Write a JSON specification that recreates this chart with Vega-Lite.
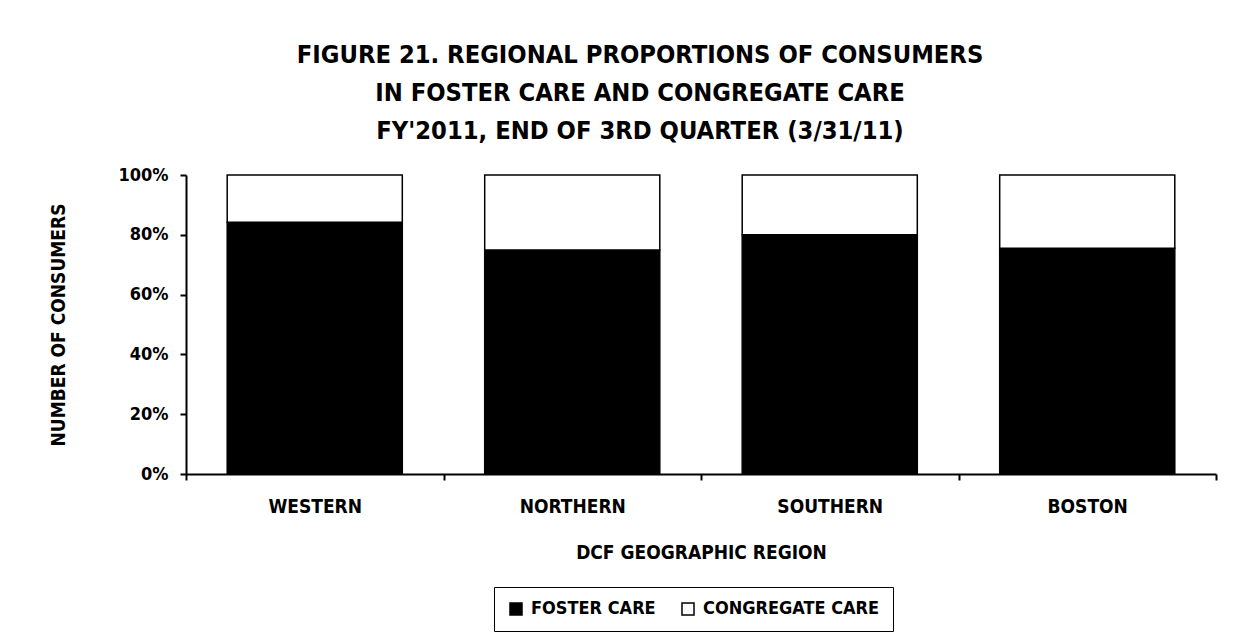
{
  "$schema": "https://vega.github.io/schema/vega-lite/v6.json",
  "width": 1030,
  "height": 299,
  "autosize": {"type": "none"},
  "padding": {"left": 186, "top": 175, "right": 25, "bottom": 163},
  "background": "white",
  "title": {
    "text": ["FIGURE 21. REGIONAL PROPORTIONS OF CONSUMERS", "IN FOSTER CARE AND CONGREGATE CARE", "FY'2011, END OF 3RD QUARTER (3/31/11)"],
    "font": "DejaVu Sans Condensed",
    "fontWeight": "bold",
    "fontSize": 25.3,
    "lineHeight": 38,
    "color": "black",
    "anchor": "middle",
    "dx": -61,
    "offset": 22
  },
  "data": {
    "values": [
      {"region": "WESTERN", "category": "FOSTER CARE", "pct": 84.2},
      {"region": "WESTERN", "category": "CONGREGATE CARE", "pct": 15.8},
      {"region": "NORTHERN", "category": "FOSTER CARE", "pct": 74.9},
      {"region": "NORTHERN", "category": "CONGREGATE CARE", "pct": 25.1},
      {"region": "SOUTHERN", "category": "FOSTER CARE", "pct": 80.0},
      {"region": "SOUTHERN", "category": "CONGREGATE CARE", "pct": 20.0},
      {"region": "BOSTON", "category": "FOSTER CARE", "pct": 75.5},
      {"region": "BOSTON", "category": "CONGREGATE CARE", "pct": 24.5}
    ]
  },
  "mark": {"type": "bar", "width": {"band": 0.68}, "stroke": "black", "strokeWidth": 1.5},
  "encoding": {
    "x": {
      "field": "region",
      "type": "nominal",
      "sort": ["WESTERN", "NORTHERN", "SOUTHERN", "BOSTON"],
      "scale": {"paddingInner": 0, "paddingOuter": 0},
      "axis": {
        "title": "DCF GEOGRAPHIC REGION",
        "labelAngle": 0,
        "tickBand": "extent",
        "tickSize": 6,
        "labelPadding": 17,
        "titlePadding": 27
      }
    },
    "y": {
      "field": "pct",
      "type": "quantitative",
      "stack": "normalize",
      "scale": {"domain": [0, 1], "nice": false},
      "axis": {
        "title": "NUMBER OF CONSUMERS",
        "format": ".0%",
        "values": [0, 0.2, 0.4, 0.6, 0.8, 1],
        "grid": false,
        "tickSize": 6,
        "labelPadding": 12,
        "labelFontSize": 18,
        "titlePadding": 49
      }
    },
    "color": {
      "field": "category",
      "type": "nominal",
      "scale": {"domain": ["FOSTER CARE", "CONGREGATE CARE"], "range": ["black", "white"]},
      "legend": {
        "title": null,
        "orient": "none",
        "legendX": 308,
        "legendY": 412,
        "direction": "horizontal",
        "symbolType": "square",
        "symbolSize": 144,
        "symbolStrokeColor": "black",
        "symbolStrokeWidth": 1.5,
        "labelOffset": 6,
        "labelLimit": 400,
        "columnPadding": 23,
        "strokeColor": "black",
        "fillColor": "white",
        "padding": 13
      }
    },
    "order": {"field": "category", "sort": "descending"}
  },
  "config": {
    "view": {"stroke": null},
    "font": "DejaVu Sans Condensed",
    "axis": {
      "domainColor": "black",
      "domainWidth": 2,
      "tickColor": "black",
      "tickWidth": 2,
      "labelColor": "black",
      "labelFont": "DejaVu Sans Condensed",
      "labelFontWeight": "bold",
      "labelFontSize": 19,
      "titleColor": "black",
      "titleFont": "DejaVu Sans Condensed",
      "titleFontWeight": "bold",
      "titleFontSize": 19
    },
    "legend": {
      "labelFont": "DejaVu Sans Condensed",
      "labelFontWeight": "bold",
      "labelFontSize": 18,
      "labelColor": "black"
    }
  }
}
